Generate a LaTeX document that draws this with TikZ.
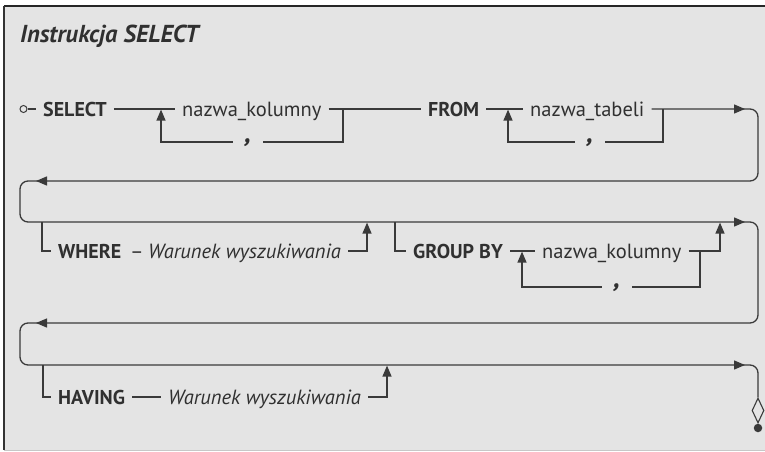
\documentclass[tikz,border=0pt]{standalone}
\usepackage{fontspec}
\setmainfont{PT Sans}
\usetikzlibrary{arrows.meta,shapes.geometric}
\definecolor{bg}{HTML}{E4E4E4}
\definecolor{linec}{HTML}{3A3A3A}
\definecolor{textc}{HTML}{303030}
\newcommand\kwf{\fontsize{20}{23}\selectfont\bfseries}
\newcommand\nmf{\fontsize{20.5}{23}\selectfont}
\newcommand\itf{\fontsize{20.5}{23}\selectfont\itshape}
\newcommand\cmf{\fontsize{28}{30}\selectfont\bfseries\itshape}
\newcommand\ttlf{\fontsize{24.5}{28}\selectfont\bfseries\itshape}
\tikzset{
  rr/.style={line width=1.3pt, draw=linec},
  tipx/.style={-{Triangle[length=11pt,width=9pt]}, shorten >=0.6pt},
  kwbox/.style={font=\kwf, text=textc, inner xsep=7pt, inner ysep=0pt, text height=14.3pt, text depth=0pt, anchor=west},
  nmbox/.style={kwbox, font=\nmf},
  itbox/.style={kwbox, font=\itf},
  commabox/.style={font=\cmf, text=textc, inner xsep=12pt, inner ysep=0pt, text height=0pt, text depth=0pt, anchor=center}
}
\begin{document}
\begin{tikzpicture}[x=1pt,y=-1pt]
\useasboundingbox (0,0) rectangle (765,452);
\fill[white] (0,0) rectangle (765,452);
\fill[bg] (4,6) rectangle (765,450);
\draw[line width=2pt, black!85] (4,6) -- (765,6);
\draw[line width=1.5pt, black!80] (4,6) -- (4,450);
\draw[line width=1pt, black!22] (4,450) -- (765,450);

% title
\node[font=\ttlf, text=textc, anchor=base west, inner sep=0pt] (title) at (20,42) {Instrukcja SELECT};

% ---- row 1
\node[circle, draw=linec, line width=1pt, fill=bg, inner sep=0pt, minimum size=7pt] (start) at (23.5,109) {};
\node[kwbox] (select) at (36,109) {SELECT};
\node[nmbox] (nk1) at (175,109) {nazwa\_kolumny};
\node[kwbox] (from) at (421,109) {FROM};
\node[nmbox] (nt) at (523,109) {nazwa\_tabeli};
\node[commabox] (comma1) at (248,142) {,};
\node[commabox] (comma2) at (590,142) {,};
\coordinate (j1) at (161,109);
\coordinate (j2) at (343,109);
\coordinate (j3) at (508,109);
\coordinate (j4) at (663,109);

\draw[rr] (start) -- (select);
\draw[rr] (select) -- (nk1);
\draw[rr] (nk1) -- (from);
\draw[rr] (from) -- (nt);
\draw[rr,tipx] (comma1.west) -| (j1);
\draw[rr] (j2) |- (comma1.east);
\draw[rr,tipx] (comma2.west) -| (j3);
\draw[rr] (j4) |- (comma2.east);

% ---- main winding line
\coordinate (r1) at (758,109);
\coordinate (r2) at (758,181);
\coordinate (l2) at (20,181);
\coordinate (l3) at (20,222);
\coordinate (r3) at (758,222);
\coordinate (r4) at (758,323);
\coordinate (l4) at (20,323);
\coordinate (l5) at (20,365);
\coordinate (r5) at (758,365);
\node[diamond, draw=linec, line width=1.1pt, fill=bg, inner sep=0pt, minimum width=12pt, minimum height=25pt] (endd) at (758,410.5) {};
\node[circle, fill=linec, inner sep=0pt, minimum size=8.5pt] (enddot) at (758,428) {};
\draw[rr, rounded corners=8pt] (nt.east) -- (r1) -- (r2) -- (l2) -- (l3) -- (r3) -- (r4) -- (l4) -- (l5) -- (r5) -- (endd.north);

% arrowheads on main line
\coordinate (a1) at (745,109);
\coordinate (a2) at (36,181);
\coordinate (a3) at (745,222);
\coordinate (a4) at (36,323);
\coordinate (a5) at (745,365);
\draw[rr,tipx,shorten >=0pt] ([xshift=-2pt]a1) -- (a1);
\draw[rr,tipx,shorten >=0pt] ([xshift=2pt]a2) -- (a2);
\draw[rr,tipx,shorten >=0pt] ([xshift=-2pt]a3) -- (a3);
\draw[rr,tipx,shorten >=0pt] ([xshift=2pt]a4) -- (a4);
\draw[rr,tipx,shorten >=0pt] ([xshift=-2pt]a5) -- (a5);

% ---- row 2: WHERE
\coordinate (wb) at (42,222);
\coordinate (we) at (367,222);
\node[kwbox] (where) at (51,251) {WHERE};
\node[nmbox, anchor=center, inner xsep=0pt] (dash) at (137,251) {–};
\node[itbox] (war1) at (141,251) {Warunek wyszukiwania};
\draw[rr] (wb) |- (where.west);
\draw[rr,tipx] (war1.east) -| (we);

% ---- row 2: GROUP BY
\coordinate (gb) at (395,222);
\coordinate (ge) at (720,222);
\node[kwbox] (groupby) at (406,251) {GROUP BY};
\node[nmbox] (nk2) at (535,251) {nazwa\_kolumny};
\node[commabox] (comma3) at (617,287) {,};
\coordinate (j5) at (522,251);
\coordinate (j6) at (700,251);
\draw[rr] (gb) |- (groupby.west);
\draw[rr] (groupby) -- (nk2);
\draw[rr,tipx] (nk2.east) -| (ge);
\draw[rr,tipx] (comma3.west) -| (j5);
\draw[rr] (j6) |- (comma3.east);

% ---- row 3: HAVING
\coordinate (hb) at (43,365);
\coordinate (he) at (387,365);
\node[kwbox] (having) at (51,397) {HAVING};
\node[itbox] (war2) at (161,397) {Warunek wyszukiwania};
\draw[rr] (hb) |- (having.west);
\draw[rr] (having) -- (war2);
\draw[rr,tipx] (war2.east) -| (he);
\end{tikzpicture}
\end{document}
